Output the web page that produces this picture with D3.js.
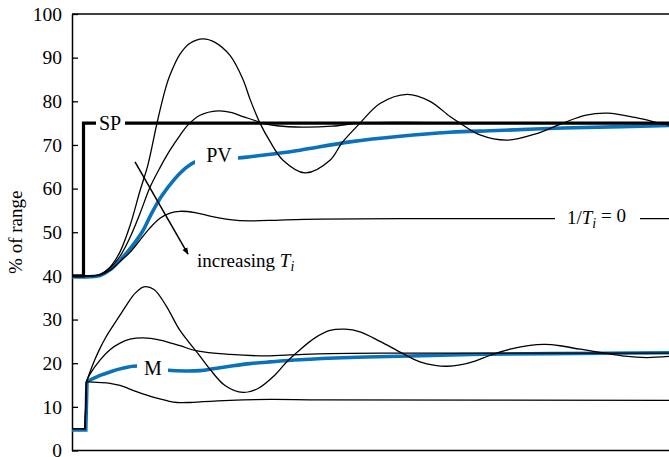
<!DOCTYPE html>
<html>
<head>
<meta charset="utf-8">
<script src="https://cdn.jsdelivr.net/npm/d3@7"></script>
<style>
  body { margin: 0; background: #fff; }
  svg { display: block; }
</style>
</head>
<body>
<svg id="chart" width="669" height="457"></svg>
<script>
// ---- data: PI loop response to a set-point step (time in min, values in % of range) ----
const yTicks = [0, 10, 20, 30, 40, 50, 60, 70, 80, 90, 100];

const setPoint = [[0, 40], [1.15, 40], [1.15, 75], [60, 75]];

// controlled variable, from short integral time to no integral action
const pvFast = [[0,40],[1.8,40],[2.8,40.3],[3.8,42],[4.8,45.5],[5.8,51.5],[6.8,59.5],[7.6,65.5],[8.5,75],
  [9.3,82.5],[9.8,86],[10.8,90.8],[11.8,93.3],[13.1,94.3],[14.3,93.5],[15.8,90.5],[17.1,85],[17.8,80.5],
  [18.8,75],[19.8,70.8],[21.1,66.5],[23.3,63.6],[25.8,66.5],[27.0,70.5],[28.8,75],[30.8,79.5],[33.5,81.6],
  [35.8,80],[37.8,76.5],[38.8,75],[40.8,72.3],[43.5,71.1],[46.3,72.5],[49.1,75],[51.3,76.8],[53.6,77.3],
  [56.3,76.3],[58.8,75],[60,74.4]];
const pvMid = [[0,40],[1.8,40],[2.8,40.3],[3.8,41.8],[4.8,44.5],[5.8,48.8],[6.8,54.3],[7.8,60.3],[8.8,64.8],
  [9.8,68.8],[10.8,72.2],[11.6,74.6],[12.8,76.8],[14.6,77.8],[16.0,77.4],[17.1,76.5],[18.3,75.6],[19.0,75],
  [20.5,74.4],[23.1,74.1],[26,74.3],[28.8,75],[33.5,75.15],[40,75],[60,75]];
const pvSlow = [[0,39.8],[1.8,39.8],[2.8,40.1],[3.8,41.4],[4.8,43.6],[5.8,46.2],[7.0,50],[8.0,54.5],[9.0,58.4],
  [10.3,62.3],[11.3,64.6],[12.3,66.1],[14.5,66.7],[16.6,67.0],[17.8,67.3],[20.3,68],[22.8,68.8],[27.8,70.7],
  [32.8,72],[37.8,72.9],[42.5,73.3],[49.1,73.9],[55,74.2],[60,74.5]];
const pvNoInt = [[0,40],[1.8,40],[2.8,40.2],[3.8,41.3],[4.8,43.3],[5.8,45.4],[6.8,48.2],[7.8,51],[8.8,53.2],
  [9.8,54.4],[10.8,54.8],[12.3,54.5],[13.8,53.7],[15.8,52.9],[17.8,52.6],[20.8,52.8],[24.8,53],[32.8,53.1],[60,53.1]];

// controller output for the same four settings
const mFast = [[0,5],[1.3,5],[1.45,15.8],[1.8,18.0],[2.3,20.9],[2.8,23.4],[3.3,25.6],[3.8,27.5],[4.8,31.0],
  [5.5,33.5],[6.3,36.0],[7.2,37.5],[8.2,36.9],[9.4,33.2],[10.8,27.5],[12.6,22.2],[13.8,18.6],[15.3,14.9],
  [17.1,13.3],[18.6,14.2],[20.3,17.3],[21.5,20.4],[22.6,22.7],[24.3,25.8],[25.8,27.5],[27.3,27.8],[28.8,27.2],
  [30.8,25],[33.0,22.3],[34.8,20.3],[36.3,19.5],[37.5,19.3],[38.8,19.6],[40.3,20.5],[41.8,21.8],[43.8,23.2],
  [45.8,24.1],[47.3,24.3],[48.8,24],[50.8,23.2],[52.8,22.5],[55.3,21.6],[57.5,21.3],[60,21.6]];
const mMid = [[0,5],[1.3,5],[1.45,15.8],[1.8,17.5],[2.8,20.7],[3.8,23.1],[4.8,24.6],[5.8,25.5],[7.1,25.8],
  [8.8,25.3],[10.8,24],[12.5,22.8],[15.8,22],[18.8,21.7],[21.8,21.9],[25.8,22.2],[32.8,22.3],[60,22.3]];
const mSlow = [[0,4.7],[1.38,4.7],[1.5,15.8],[2.3,16.7],[2.8,17.2],[3.8,18],[4.8,18.7],[6.1,19.3],[7.3,19.4],
  [8.5,18.8],[9.6,18.4],[11.3,18.2],[12.8,18.3],[14.3,18.8],[15.8,19.3],[17.8,19.9],[19.8,20.3],[22.8,20.8],
  [27.8,21.3],[32.8,21.6],[39.8,22.0],[47.8,22.2],[60,22.4]];
const mNoInt = [[0,5],[1.3,5],[1.45,15.8],[2.5,15.6],[3.8,15.4],[4.8,14.9],[6.3,13.6],[8.1,12.2],[9.5,11.4],
  [10.5,11.0],[11.8,11.0],[13.1,11.2],[15.8,11.5],[19.8,11.7],[25,11.6],[60,11.5]];

// ---- layout ----
const SERIF = '"Liberation Serif", "DejaVu Serif", "Times New Roman", serif';
const svg = d3.select("#chart");
const x = d3.scaleLinear().domain([0, 60]).range([72, 672]);
const y = d3.scaleLinear().domain([0, 100]).range([450.5, 14]);

const BLUE = "#0a72bb";

// frame and axis
svg.append("line").attr("x1", x(0)).attr("x2", 669).attr("y1", y(100)).attr("y2", y(100))
  .attr("stroke", "#000").attr("stroke-width", 1.5);
svg.append("line").attr("x1", x(0)).attr("x2", 669).attr("y1", y(0)).attr("y2", y(0))
  .attr("stroke", "#000").attr("stroke-width", 1.5);

const axis = svg.append("g").attr("transform", `translate(${x(0)},0)`)
  .call(d3.axisLeft(y).tickValues(yTicks).tickSizeInner(-6).tickSizeOuter(0).tickPadding(10).tickFormat(d3.format("d")));
axis.select(".domain").attr("stroke-width", 1.5);
axis.selectAll(".tick line").attr("stroke-width", 1.3);
axis.selectAll(".tick text").style("font-family", SERIF).style("font-size", "19.5px").attr("fill", "#000");

svg.append("text")
  .attr("transform", `translate(22,${y(50)}) rotate(-90)`)
  .attr("text-anchor", "middle")
  .style("font-family", SERIF).style("font-size", "19px")
  .text("% of range");

// curves: flat/step parts straight, the response itself smooth
const smooth = d3.line().x(d => x(d[0])).y(d => y(d[1])).curve(d3.curveCatmullRom.alpha(0.5));
const straight = d3.line().x(d => x(d[0])).y(d => y(d[1]));

function drawSeries(g, s, stroke, width, stepped) {
  if (stepped) {
    const k = s.findIndex(d => d[1] > 10);
    g.append("path").attr("d", straight(s.slice(0, k + 1))).attr("fill", "none")
      .attr("stroke", stroke).attr("stroke-width", width);
    g.append("path").attr("d", smooth(s.slice(k))).attr("fill", "none")
      .attr("stroke", stroke).attr("stroke-width", width);
  } else {
    g.append("path").attr("d", smooth(s)).attr("fill", "none")
      .attr("stroke", stroke).attr("stroke-width", width);
  }
}

const plot = svg.append("g");
drawSeries(plot, pvSlow, BLUE, 3.6, false);
drawSeries(plot, mSlow, BLUE, 3.6, true);
[pvFast, pvMid, pvNoInt].forEach(s => drawSeries(plot, s, "#000", 1.3, false));
[mFast, mMid, mNoInt].forEach(s => drawSeries(plot, s, "#000", 1.3, true));
plot.append("path").attr("d", straight(setPoint)).attr("fill", "none")
  .attr("stroke", "#000").attr("stroke-width", 3.2).attr("stroke-linejoin", "miter");

// clear a gap in each labelled line, then write the label into it
const gaps = [
  { t0: 2.4,  t1: 5.3,  lo: 72,   hi: 78 },
  { t0: 12.3, t1: 16.6, lo: 63,   hi: 70 },
  { t0: 6.5,  t1: 9.6,  lo: 16.8, hi: 21 },
  { t0: 48.3, t1: 56.8, lo: 51.3, hi: 55 }
];
svg.selectAll("rect.gap").data(gaps).join("rect").attr("class", "gap")
  .attr("x", d => x(d.t0)).attr("width", d => x(d.t1) - x(d.t0))
  .attr("y", d => y(d.hi)).attr("height", d => y(d.lo) - y(d.hi))
  .attr("fill", "#fff");

const labels = [
  { text: "SP", t: 3.8,  v: 75 },
  { text: "PV", t: 14.7, v: 67.6 },
  { text: "M",  t: 8.1,  v: 18.9 }
];
svg.selectAll("text.lbl").data(labels).join("text").attr("class", "lbl")
  .attr("x", d => x(d.t)).attr("y", d => y(d.v)).attr("dy", "0.33em")
  .attr("text-anchor", "middle")
  .style("font-family", SERIF).style("font-size", "20px")
  .text(d => d.text);

const noInt = svg.append("text").attr("x", x(49.5)).attr("y", y(53.4)).attr("dy", "0.33em")
  .style("font-family", SERIF).style("font-size", "19px");
noInt.append("tspan").text("1/");
noInt.append("tspan").attr("font-style", "italic").text("T");
noInt.append("tspan").attr("font-style", "italic").style("font-size", "14px").attr("dy", "0.3em").text("i");
noInt.append("tspan").attr("dy", "-0.3em").text(" = 0");

const inc = svg.append("text").attr("x", x(12.5)).attr("y", y(42.0))
  .style("font-family", SERIF).style("font-size", "19px");
inc.append("tspan").text("increasing ");
inc.append("tspan").attr("font-style", "italic").text("T");
inc.append("tspan").attr("font-style", "italic").style("font-size", "14px").attr("dy", "0.3em").text("i");

// arrow across the family of PV curves
svg.append("defs").append("marker")
  .attr("id", "head").attr("viewBox", "0 0 10 10").attr("refX", 9).attr("refY", 5)
  .attr("markerWidth", 7).attr("markerHeight", 7).attr("markerUnits", "userSpaceOnUse")
  .attr("orient", "auto")
  .append("path").attr("d", "M0,1 L10,5 L0,9 Z").attr("fill", "#000");
svg.append("line")
  .attr("x1", x(6.3)).attr("y1", y(66.1)).attr("x2", x(11.6)).attr("y2", y(45.0))
  .attr("stroke", "#000").attr("stroke-width", 1.5).attr("marker-end", "url(#head)");
</script>
</body>
</html>
